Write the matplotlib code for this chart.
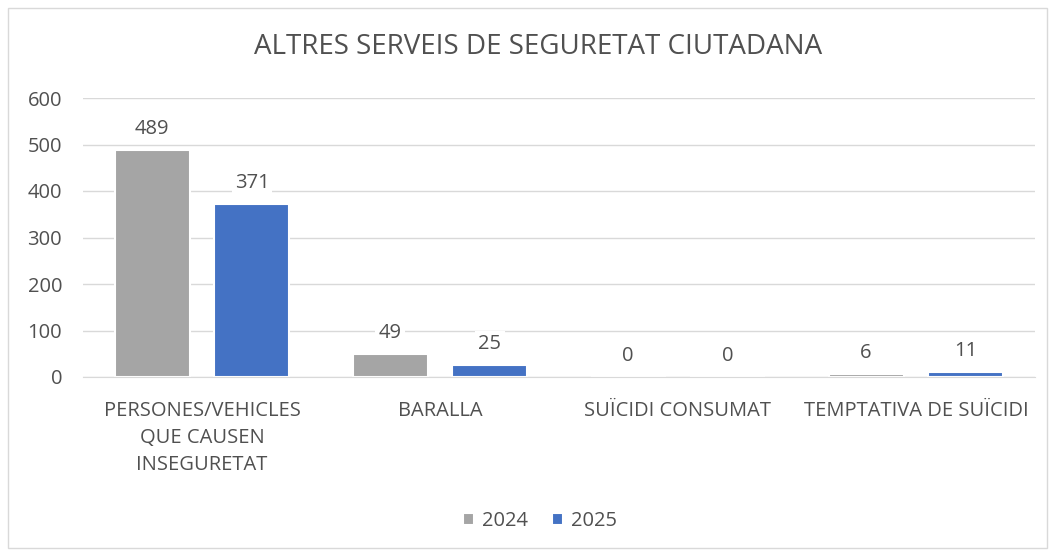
import numpy as np
import matplotlib.pyplot as plt
from matplotlib.patches import Rectangle

plt.rcParams['font.family'] = ['Open Sans', 'DejaVu Sans']

categories = ['PERSONES/VEHICLES\nQUE CAUSEN\nINSEGURETAT', 'BARALLA',
              'SUÏCIDI CONSUMAT', 'TEMPTATIVA DE SUÏCIDI']
vals_2024 = [489, 49, 0, 6]
vals_2025 = [371, 25, 0, 11]
years = ['2024', '2025']

grey = '#a5a5a5'
blue = '#4472c4'
text_col = '#505050'

fig = plt.figure(figsize=(10.55, 5.57), dpi=100)
# light frame round the whole chart
fig.patches.append(Rectangle((8 / 1055, 9 / 557), 1039 / 1055, 540 / 557,
                             transform=fig.transFigure, fill=False,
                             edgecolor='#d9d9d9', linewidth=1))

ax = fig.add_axes([83 / 1055, 1 - 377 / 557, 952 / 1055, 279 / 557])

x = np.arange(len(categories))
w = 0.315
off = 0.21
b1 = ax.bar(x - off, vals_2024, w, color=grey, edgecolor='white', linewidth=1.5,
            label=years[0], zorder=2)
b2 = ax.bar(x + off, vals_2025, w, color=blue, edgecolor='white', linewidth=1.5,
            label=years[1], zorder=2)

for bars in (b1, b2):
    for r in bars:
        h = r.get_height()
        ax.annotate(f'{h:g}', (r.get_x() + r.get_width() / 2, h),
                    xytext=(0, 8), textcoords='offset points',
                    ha='center', va='bottom', fontsize=14.5, color=text_col,
                    bbox=dict(boxstyle='square,pad=0.15', fc='white', ec='none'),
                    zorder=3)

ax.set_xlim(-0.5, len(categories) - 0.5)
ax.set_ylim(0, 600)
ax.set_yticks(range(0, 601, 100))
ax.yaxis.grid(True, color='#d9d9d9', linewidth=1, zorder=0)
ax.set_axisbelow(True)
for s in ['top', 'right', 'left']:
    ax.spines[s].set_visible(False)
ax.spines['bottom'].set_color('#d9d9d9')
ax.tick_params(length=0, labelsize=14.5, colors=text_col)
ax.tick_params(axis='y', pad=15)
ax.set_xticks(x)
ax.set_xticklabels(categories, linespacing=1.48)
ax.tick_params(axis='x', pad=17)

fig.text(538 / 1055, 1 - 47 / 557, 'ALTRES SERVEIS DE SEGURETAT CIUTADANA',
         ha='center', va='center', fontsize=20, color=text_col)

fig.legend(handles=[b1, b2], loc='center', bbox_to_anchor=(540 / 1055, 1 - 521 / 557),
           ncol=2, frameon=False, fontsize=14.5, labelcolor=text_col,
           handlelength=0.55, handleheight=0.55, handletextpad=0.4, columnspacing=1.2)

fig.savefig('out.png', dpi=100)
